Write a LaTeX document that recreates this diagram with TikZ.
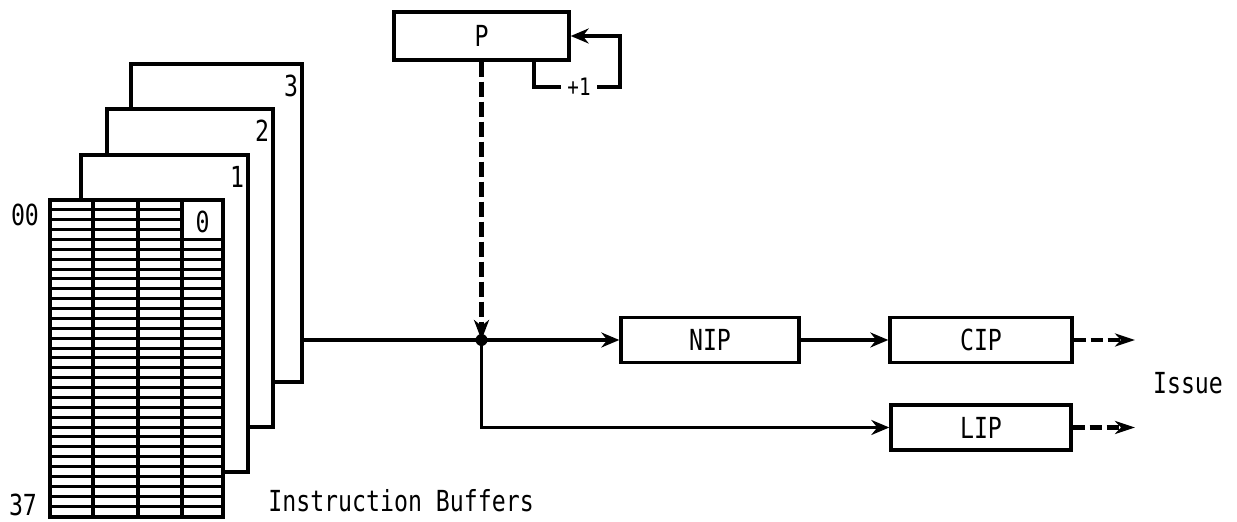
\documentclass[tikz,border=0pt]{standalone}
\usepackage{fontspec}
\newfontfamily\typewriter[FakeStretch=0.8]{DejaVu Sans Mono}
\usetikzlibrary{arrows.meta}

\begin{document}
\begin{tikzpicture}
[x=0.5pt,y=-0.5pt,line width=1.7pt,%
  every node/.style={font=\typewriter\fontsize{14.5pt}{17pt}\selectfont},%
  box/.style={shape=rectangle,draw,line width=1.7pt,inner sep=0pt,%
    minimum width=90pt,minimum height=22.5pt},%
  flow/.style={-{Stealth[length=9pt,width=7.5pt,inset=3pt]}},%
  fetch/.style={line width=2.8pt,dash pattern=on 7.5pt off 2.5pt,%
    -{Stealth[length=10pt,width=7.5pt,inset=3pt]}},%
  issue/.style={line width=2.2pt,dash pattern=on 6pt off 2.5pt,%
    -{Stealth[length=10pt,width=6.5pt,inset=3pt]}}]
\useasboundingbox (0,0) rectangle (1237,522);
% buffers 3, 2, 1 behind
\foreach \k/\l/\t/\r/\b in {3/131/64/302/382,2/107/109/273/427,1/81/155/248/472}
  {
  \draw[fill=white] (\l,\t) rectangle (\r,\b);
  \node (buf\k) at (\r-11,\t+22) {\k};
  }
% buffer 0
\draw[fill=white] (50,200) rectangle (223,517);
\foreach \i in {1,...,31}
  \draw[line width=1.5pt] (50,200+9.875*\i) -- (182,200+9.875*\i);
\foreach \i in {4,...,31}
  \draw[line width=1.5pt] (182,200+9.875*\i) -- (223,200+9.875*\i);
\foreach \c in {93,138,182}
  \draw (\c,200) -- (\c,517);
\node (buf0) at (202.5,222) {0};
\node (first) at (25,215) {00};
\node (last) at (23,505) {37};
\node[anchor=base west] (caption) at (260,512) {Instruction Buffers};
% registers
\node[box,minimum width=87.5pt,minimum height=24pt] (P) at (481.5,36) {P};
\node[box,minimum width=89pt] (NIP) at (710,340) {NIP};
\node[box,minimum width=91pt] (CIP) at (981,340) {CIP};
\node[box] (LIP) at (981,427.5) {LIP};
\node (out) at (1188,383) {Issue};
\node[font=\typewriter\fontsize{12pt}{14pt}\selectfont,inner sep=2.5pt] (inc) at (579,87) {+1};
\coordinate (bufout) at (302,340);
\coordinate (join) at (481.5,340);
\coordinate (tap) at (534,60);
\coordinate (turn) at (620,36);
\coordinate (cipend) at (1135,340);
\coordinate (lipend) at (1135,427.5);
% connections
\draw[flow] (bufout) -- (NIP.west);
\draw[flow] (join) |- (LIP.west);
\draw[fetch] (P.south) -- (join);
\fill (join) circle[radius=3pt];
\draw[flow] (NIP.east) -- (CIP.west);
\draw (tap) |- (inc.west);
\draw[flow] (inc.east) -| (turn) -- (P.east);
\draw[issue] (CIP.east) -- (cipend);
\draw[issue] (LIP.east) -- (lipend);
\end{tikzpicture}
\end{document}
